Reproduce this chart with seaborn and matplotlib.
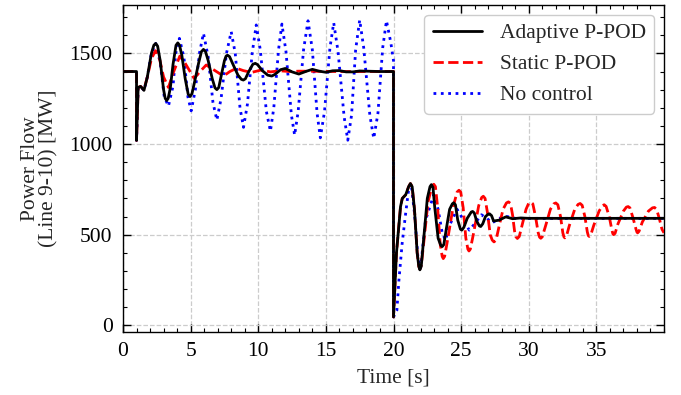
import numpy as np
import pandas as pd
import matplotlib
matplotlib.use("Agg")
import matplotlib.pyplot as plt
import seaborn as sns

# ---------------- data ----------------
t_adaptive = [0, 1.0, 1.0, 1.12, 1.3, 1.55, 1.8, 2.1, 2.28, 2.42, 2.56, 2.75, 3.0, 3.12, 3.23,
              3.34, 3.5, 3.7, 3.92, 4.05, 4.18, 4.35, 4.6, 4.82, 4.96, 5.1, 5.3, 5.6, 5.8, 5.95,
              6.1, 6.3, 6.6, 6.8, 6.94, 7.08, 7.3, 7.5, 7.62, 7.73, 7.88, 8.1, 8.5, 8.75, 8.9,
              9.05, 9.3, 9.6, 9.78, 9.95, 10.3, 10.7, 11.0, 11.25, 11.65, 12.0, 12.5, 13.0,
              13.5, 14.0, 14.5, 15.0, 15.5, 16.0, 16.5, 17.0, 17.5, 18.0, 19.0, 20.0,
              20.0, 20.22, 20.52, 20.65, 20.9, 21.12, 21.25, 21.38, 21.55, 21.75, 21.87, 21.95,
              22.05, 22.2, 22.5, 22.7, 22.8, 22.92, 23.05, 23.3, 23.5, 23.6, 23.72, 23.9, 24.15,
              24.35, 24.45, 24.58, 24.75, 24.95, 25.05, 25.2, 25.45, 25.75, 25.85, 25.97, 26.15,
              26.35, 26.45, 26.6, 26.8, 27.0, 27.1, 27.25, 27.4, 27.8, 28.3, 28.8, 29.4, 30.0,
              35.0, 40.0]
p_adaptive = [1400, 1400, 1020, 1312, 1318, 1296, 1370, 1500, 1545, 1555, 1540, 1460, 1300, 1252, 1240,
              1252, 1310, 1440, 1545, 1558, 1545, 1490, 1360, 1275, 1262, 1278, 1345, 1450, 1510, 1522,
              1510, 1460, 1360, 1310, 1300, 1312, 1390, 1460, 1485, 1490, 1482, 1445, 1380, 1357, 1353,
              1360, 1400, 1440, 1445, 1438, 1405, 1380, 1375, 1385, 1410, 1417, 1398, 1386,
              1400, 1412, 1402, 1396, 1404, 1405, 1398, 1398, 1403, 1402, 1400, 1400,
              46, 400, 655, 700, 720, 765, 782, 765, 640, 400, 325, 306,
              325, 450, 700, 765, 776, 760, 650, 480, 440, 434, 445, 530, 640,
              670, 676, 665, 580, 530, 525, 540, 590, 625, 628, 620, 575,
              548, 545, 560, 600, 613, 615, 605, 575, 580, 598, 588, 592, 590,
              590, 590]

t_static = [0, 1.0, 1.0, 1.12, 1.3, 1.55, 1.8, 2.1, 2.4, 2.7, 3.0, 3.36, 3.7, 4.2, 4.6, 5.26,
            5.7, 6.15, 6.8, 7.43, 7.9, 8.4, 8.9, 9.5, 10.2, 10.9, 11.6, 12.3, 13.0, 16.0, 20.0,
            20.0, 20.22, 20.52, 20.65, 20.9, 21.12, 21.25, 21.38, 21.55, 21.75, 21.87, 21.95,
            22.05, 22.2, 22.55, 22.85, 22.98, 23.1, 23.25, 23.45, 23.6, 23.68, 23.78, 23.95,
            24.4, 24.7, 24.84, 24.97, 25.15, 25.35, 25.5, 25.58, 25.68, 25.9, 26.3, 26.52,
            26.64, 26.77, 26.95, 27.15, 27.3, 27.43, 27.58, 27.85, 28.1, 28.35, 28.5, 28.65,
            28.8, 28.95, 29.05, 29.16, 29.3, 29.5, 29.8, 30.0, 30.15, 30.3, 30.5, 30.7, 30.8,
            30.89, 31.0, 31.25, 31.6, 31.85, 32.0, 32.15, 32.35, 32.52, 32.6, 32.67, 32.78,
            33.0, 33.4, 33.65, 33.8, 33.95, 34.15, 34.33, 34.4, 34.47, 34.58, 34.8, 35.2,
            35.45, 35.58, 35.72, 35.95, 36.15, 36.22, 36.27, 36.38, 36.6, 37.0, 37.22, 37.35,
            37.48, 37.7, 37.93, 38.0, 38.05, 38.15, 38.4, 38.85, 39.15, 39.3, 39.45, 39.65,
            39.85, 40.0]
p_static = [1400, 1400, 1020, 1312, 1318, 1300, 1370, 1470, 1515, 1470, 1370, 1312, 1390, 1485, 1445, 1362,
            1400, 1436, 1405, 1375, 1400, 1418, 1405, 1395, 1408, 1398, 1404, 1400, 1402, 1400, 1400,
            46, 400, 655, 700, 720, 765, 782, 765, 640, 400, 325, 310,
            330, 430, 680, 768, 778, 765, 660, 450, 380, 368, 380, 450,
            650, 735, 745, 735, 650, 480, 420, 410, 420, 500, 660, 705,
            712, 700, 620, 500, 470, 460, 470, 560, 640, 675, 681, 672,
            610, 520, 488, 479, 490, 550, 640, 674, 680, 670, 600, 510, 486,
            480, 488, 550, 640, 670, 675, 665, 600, 510, 488, 482, 490,
            550, 640, 667, 672, 662, 600, 515, 495, 490, 497, 550, 630,
            660, 665, 656, 600, 525, 505, 500, 507, 560, 630, 652, 655,
            648, 595, 530, 514, 510, 518, 570, 630, 648, 650, 640, 590,
            530, 510]

t_nocontrol = [0, 1.0, 1.0, 1.12, 1.3, 1.55, 1.8, 2.1, 2.42, 2.75, 3.05, 3.36, 3.7, 3.9, 4.17,
               4.5, 4.8, 5.04, 5.35, 5.65, 5.95, 6.3, 6.65, 6.94, 7.25, 7.65, 8.0, 8.3, 8.65,
               8.91, 9.2, 9.55, 9.85, 10.15, 10.6, 10.9, 11.15, 11.5, 11.75, 12.05, 12.45,
               12.69, 12.95, 13.35, 13.68, 14.0, 14.35, 14.59, 14.9, 15.3, 15.58, 15.9, 16.35,
               16.62, 16.9, 17.2, 17.5, 17.8, 18.25, 18.54, 18.85, 19.2, 19.48, 19.8, 20.0,
               20.0, 20.25, 20.4, 20.64, 20.9, 21.13, 21.3, 21.55, 21.8, 22.0, 22.37, 22.98,
               23.3, 23.6, 23.85, 24.2, 24.7, 25.1, 25.6, 26.0, 26.5, 26.9, 27.3, 27.8, 28.4,
               29.0, 30.0, 35.0, 40.0]
p_nocontrol = [1400, 1400, 1020, 1312, 1318, 1296, 1370, 1500, 1555, 1450, 1260, 1209, 1320, 1500, 1583,
               1480, 1260, 1183, 1300, 1500, 1611, 1480, 1230, 1132, 1250, 1500, 1620, 1500, 1200,
               1092, 1220, 1500, 1657, 1520, 1180, 1071, 1200, 1520, 1662, 1510, 1160,
               1049, 1180, 1520, 1680, 1520, 1170, 1034, 1180, 1530, 1669, 1510, 1150,
               1021, 1160, 1520, 1684, 1530, 1160, 1031, 1170, 1530, 1680, 1560, 1460,
               46, 83, 248, 452, 618, 756, 782, 620, 380, 315, 580, 720,
               640, 510, 470, 560, 640, 590, 525, 560, 610, 590, 565, 590, 600,
               590, 590, 590, 590]

labels = ["Adaptive P-POD", "Static P-POD", "No control"]
x_ticks = [0, 5, 10, 15, 20, 25, 30, 35]
y_ticks = [0, 500, 1000, 1500]

# ---------------- style ----------------
sns.set_theme(style="ticks")
plt.rcParams["font.family"] = ["Liberation Serif", "DejaVu Serif"]
plt.rcParams["font.size"] = 14

fig = plt.figure(figsize=(6.81, 3.95), dpi=100)
ax = fig.add_axes([123 / 681, 1 - 332 / 395, (664 - 123) / 681, (332 - 5) / 395])

sns.lineplot(x=t_nocontrol, y=p_nocontrol, ax=ax, estimator=None, sort=False,
             color="#0000ff", linewidth=2.0, linestyle=":", label=labels[2], zorder=3)
sns.lineplot(x=t_static, y=p_static, ax=ax, estimator=None, sort=False,
             color="#ff0000", linewidth=2.0, linestyle="--", label=labels[1], zorder=4)
sns.lineplot(x=t_adaptive, y=p_adaptive, ax=ax, estimator=None, sort=False,
             color="black", linewidth=2.0, linestyle="-", label=labels[0], zorder=5)

ax.set_xlim(0, 40)
ax.set_ylim(-37, 1767)
ax.set_xticks(x_ticks)
ax.set_yticks(y_ticks)
ax.xaxis.set_minor_locator(matplotlib.ticker.MultipleLocator(1))
ax.yaxis.set_minor_locator(matplotlib.ticker.MultipleLocator(100))
ax.tick_params(which="both", direction="in", top=True, right=True, labelsize=15.5,
               colors="black", pad=7.5)
ax.tick_params(which="major", length=6, width=1.0)
ax.tick_params(which="minor", length=3, width=0.8)
for s in ax.spines.values():
    s.set_linewidth(1.0)
    s.set_color("black")

ax.grid(True, which="major", linestyle="--", color="#cccccc", linewidth=0.9)
ax.set_axisbelow(True)

ax.set_xlabel("Time [s]", fontsize=15.5, labelpad=5)
ax.set_ylabel("Power Flow\n(Line 9-10) [MW]", fontsize=15.5, labelpad=8, linespacing=0.95)

handles, lbls = ax.get_legend_handles_labels()
order = [lbls.index(l) for l in labels]
ax.legend([handles[i] for i in order], [lbls[i] for i in order], loc="upper right",
          fontsize=15.5, frameon=True, fancybox=True, framealpha=1.0, edgecolor="#cccccc",
          handlelength=2.3, borderaxespad=0.45)

fig.savefig("out.png", dpi=100)
